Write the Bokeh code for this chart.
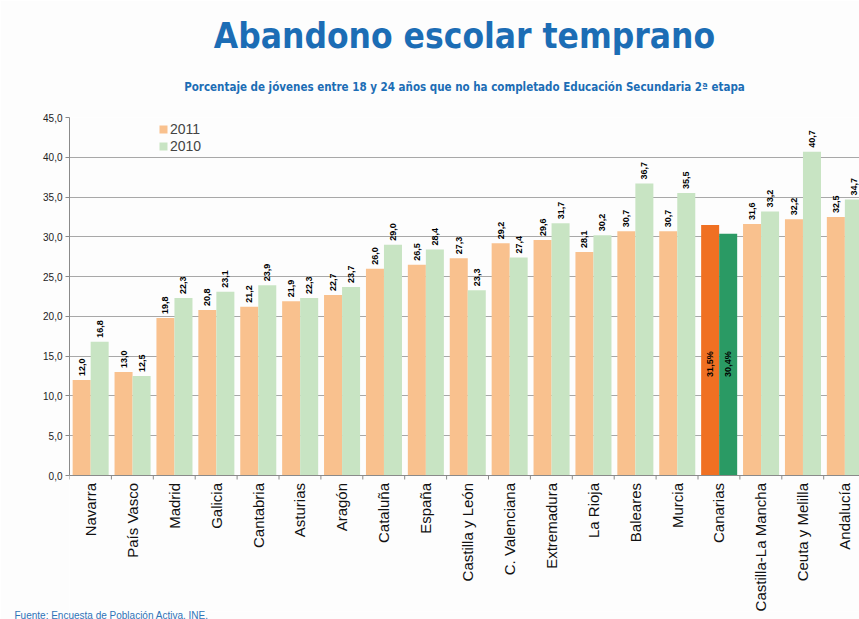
import math
from bokeh.plotting import figure
from bokeh.models import (ColumnDataSource, FixedTicker, Range1d, Legend,
                          LegendItem, Span, Title)
from bokeh.core.properties import value
from bokeh.embed import file_html
from bokeh.resources import INLINE

# ---------------- data ----------------
categories = ["Navarra", "País Vasco", "Madrid", "Galicia", "Cantabria", "Asturias",
              "Aragón", "Cataluña", "España", "Castilla y León", "C. Valenciana",
              "Extremadura", "La Rioja", "Baleares", "Murcia", "Canarias",
              "Castilla-La Mancha", "Ceuta y Melilla", "Andalucía"]
values_2011 = [12.0, 13.0, 19.8, 20.8, 21.2, 21.9, 22.7, 26.0, 26.5, 27.3, 29.2,
               29.6, 28.1, 30.7, 30.7, 31.5, 31.6, 32.2, 32.5]
values_2010 = [16.8, 12.5, 22.3, 23.1, 23.9, 22.3, 23.7, 29.0, 28.4, 23.3, 27.4,
               31.7, 30.2, 36.7, 35.5, 30.4, 33.2, 40.7, 34.7]
series_names = ["2011", "2010"]
highlight = "Canarias"
y_ticks = [0, 5, 10, 15, 20, 25, 30, 35, 40, 45]

title_text = "Abandono escolar temprano"
subtitle_text = ("Porcentaje de jóvenes entre 18 y 24 años que no ha completado "
                 "Educación Secundaria 2ª etapa")
source_text = "Fuente: Encuesta de Población Activa. INE."

# ---------------- style ----------------
C2011, C2010 = "#f9c18e", "#c8e4c3"
C2011_H, C2010_H = "#f07022", "#2a9a64"
BLUE = "#1c6db5"
BG = "#fdfdfd"
GRID = "#a8a8a8"
AXIS = "#8a8a8a"
SANS = "Liberation Sans"
COND = "DejaVu Sans Condensed"

W, H = 859, 619
LEFT, TOP, BOTTOM = 69, 117, 8
px_per_unit = (475 - 117) / 45.0
frame_h = H - TOP - BOTTOM
y_start = 45 - frame_h / px_per_unit
x_end = (W - LEFT) / 41.9

def fmt(v):
    return f"{v:.1f}".replace(".", ",")

n = len(categories)
x11 = [i + 0.29 for i in range(n)]
x10 = [i + 0.72 for i in range(n)]
col11 = [C2011_H if c == highlight else C2011 for c in categories]
col10 = [C2010_H if c == highlight else C2010 for c in categories]

src11 = ColumnDataSource(dict(x=x11, top=values_2011, color=col11))
src10 = ColumnDataSource(dict(x=x10, top=values_2010, color=col10))

p = figure(width=W, height=H, output_backend="svg", toolbar_location=None,
           x_range=Range1d(0, x_end), y_range=Range1d(y_start, 45),
           x_axis_location=None, min_border_left=LEFT, min_border_right=0,
           min_border_top=TOP, min_border_bottom=BOTTOM,
           background_fill_color=BG, border_fill_color=BG)
p.outline_line_color = None
p.xgrid.visible = False
p.ygrid.ticker = FixedTicker(ticks=y_ticks)
p.ygrid.grid_line_color = GRID
p.ygrid.grid_line_width = 1.2

yax = p.yaxis[0]
yax.ticker = FixedTicker(ticks=y_ticks)
yax.bounds = (0, 45)
yax.major_label_overrides = {t: fmt(t) for t in y_ticks}
yax.axis_line_color = AXIS
yax.major_tick_line_color = AXIS
yax.major_tick_out = 4
yax.major_tick_in = 0
yax.minor_tick_line_color = None
yax.major_label_standoff = 3
yax.major_label_text_font = SANS
yax.major_label_text_font_size = "10px"
yax.major_label_text_color = "#222222"

# bars
r11 = p.vbar(x="x", top="top", bottom=0, width=0.43, fill_color="color",
             line_color=None, source=src11)
r10 = p.vbar(x="x", top="top", bottom=0, width=0.43, fill_color="color",
             line_color=None, source=src10)

# x axis line + boundary ticks
p.add_layout(Span(location=0, dimension="width", line_color=AXIS, line_width=1.2))
bounds_x = list(range(n + 1))
p.segment(x0=bounds_x, x1=bounds_x, y0=[0] * len(bounds_x),
          y1=[-4 / px_per_unit] * len(bounds_x), line_color=AXIS, line_width=1)

# category labels (vertical)
p.text(x=[i + 0.5 for i in range(n)], y=[-7.5 / px_per_unit] * n, text=categories,
       angle=math.pi / 2, text_align="right", text_baseline="middle",
       text_font=value(SANS), text_font_size="15px", text_color="#111111")

# value labels
lab_x, lab_y, lab_t = [], [], []
in_x, in_y, in_t = [], [], []
for i, c in enumerate(categories):
    for xs, vs in ((x11, values_2011), (x10, values_2010)):
        if c == highlight:
            in_x.append(xs[i]); in_y.append(14.0); in_t.append(fmt(vs[i]) + "%")
        else:
            lab_x.append(xs[i]); lab_y.append(vs[i] + 4 / px_per_unit); lab_t.append(fmt(vs[i]))
p.text(x=lab_x, y=lab_y, text=lab_t, angle=math.pi / 2, text_align="left",
       text_baseline="middle", text_font=value(SANS), text_font_size="9px",
       text_font_style="bold", text_color="#000000")
p.text(x=in_x, y=in_y, text=in_t, angle=math.pi / 2, text_align="center",
       text_baseline="middle", text_font=value(SANS), text_font_size="9px",
       text_font_style="bold", text_color="#000000")

# legend
legend = Legend(items=[LegendItem(label=series_names[0], renderers=[r11], index=0),
                       LegendItem(label=series_names[1], renderers=[r10], index=0)],
                location=(89, frame_h - 37), orientation="vertical")
legend.label_text_font = SANS
legend.label_text_font_size = "14px"
legend.label_text_line_height = 1.0
legend.label_height = 14
legend.glyph_width = 10
legend.glyph_height = 10
legend.label_standoff = 2
legend.spacing = 1
legend.padding = 0
legend.margin = 0
legend.border_line_color = None
legend.background_fill_alpha = 0
p.add_layout(legend)

# titles & source
p.add_layout(Title(text=subtitle_text, align="center", text_font=COND,
                   text_font_style="bold", text_font_size="11.5px",
                   text_color=BLUE, standoff=48), "above")
p.add_layout(Title(text=title_text, align="center", text_font=COND,
                   text_font_style="bold", text_font_size="35px",
                   text_color=BLUE, standoff=-5), "above")
p.add_layout(Title(text=source_text, align="left", text_font=SANS,
                   text_font_style="normal", text_font_size="10px",
                   text_color="#2f74b8", standoff=-8, offset=-55), "below")

open("out.html", "w").write(file_html(p, INLINE))
